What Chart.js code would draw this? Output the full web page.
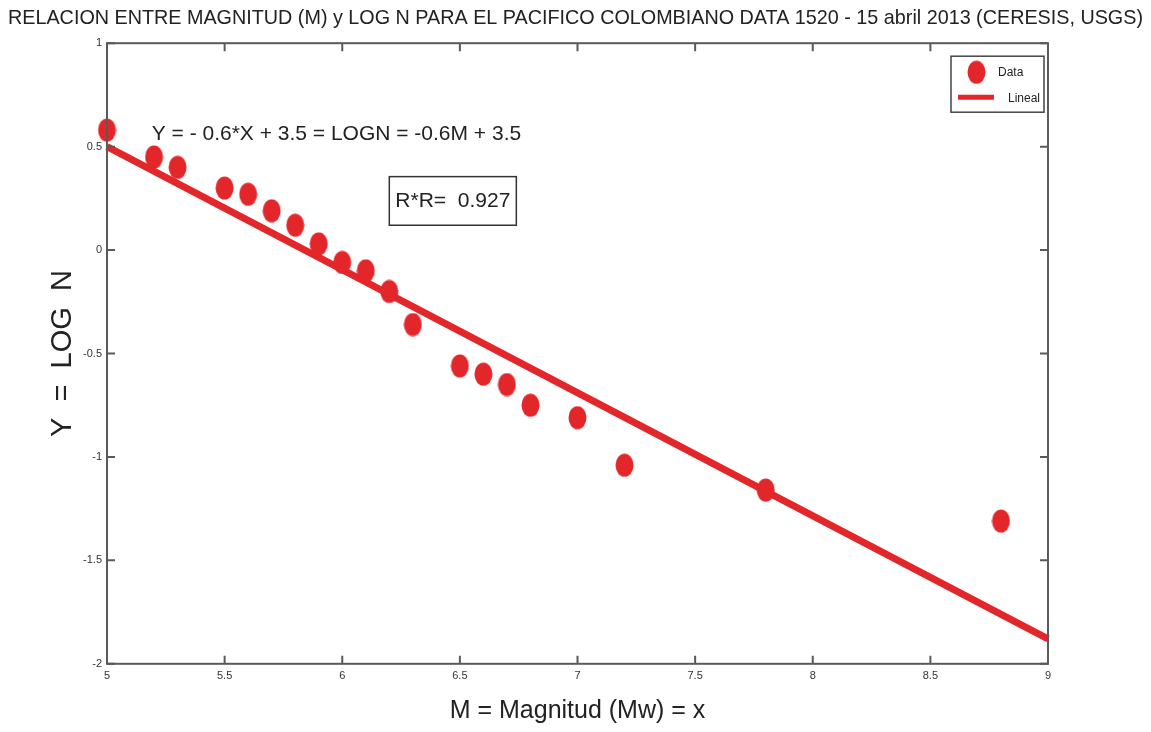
<!DOCTYPE html>
<html>
<head>
<meta charset="utf-8">
<script src="https://cdn.jsdelivr.net/npm/chart.js@4"></script>
<style>
  html, body { margin: 0; padding: 0; background: #fff; }
  #wrap { width: 1151px; height: 732px; }
</style>
</head>
<body>
<div id="wrap"><canvas id="myChart"></canvas></div>
<script>
// datos
const magnitud = [5.0, 5.2, 5.3, 5.5, 5.6, 5.7, 5.8, 5.9, 6.0, 6.1, 6.2, 6.3, 6.5, 6.6, 6.7, 6.8, 7.0, 7.2, 7.8, 8.8];
const logN = [0.58, 0.45, 0.40, 0.30, 0.27, 0.19, 0.12, 0.03, -0.06, -0.10, -0.20, -0.36, -0.56, -0.60, -0.65, -0.75, -0.81, -1.04, -1.16, -1.31];
const linealX = [5, 9];
const linealY = [0.5, -1.88];
const xTicks = [5, 5.5, 6, 6.5, 7, 7.5, 8, 8.5, 9];
const yTicks = [1, 0.5, 0, -0.5, -1, -1.5, -2];

const rojo = "#e3262a";
const gris = "#5a5a5a";
const fuente = "'Liberation Sans', Arial, sans-serif";

const ctx = document.getElementById("myChart");

// marcador eliptico (la imagen original esta algo comprimida)
const punto = document.createElement("canvas");
punto.width = 19;
punto.height = 24;
const pc = punto.getContext("2d");
pc.fillStyle = rojo;
pc.beginPath();
pc.ellipse(9.5, 12, 9, 11.5, 0, 0, Math.PI * 2);
pc.fill();

// marco tipo matlab: caja y ticks hacia adentro
const marco = {
  id: "marco",
  afterDatasetsDraw(chart) {
    const { ctx, chartArea: a, scales } = chart;
    ctx.save();
    ctx.strokeStyle = gris;
    ctx.lineWidth = 2;
    ctx.strokeRect(a.left, a.top, a.right - a.left, a.bottom - a.top);
    const t = 8;
    ctx.beginPath();
    xTicks.forEach(v => {
      const px = scales.x.getPixelForValue(v);
      ctx.moveTo(px, a.bottom); ctx.lineTo(px, a.bottom - t);
      ctx.moveTo(px, a.top); ctx.lineTo(px, a.top + t);
    });
    yTicks.forEach(v => {
      const py = scales.y.getPixelForValue(v);
      ctx.moveTo(a.left, py); ctx.lineTo(a.left + t, py);
      ctx.moveTo(a.right, py); ctx.lineTo(a.right - t, py);
    });
    ctx.stroke();

    // ecuacion y R^2
    ctx.fillStyle = "#222";
    ctx.font = "21px " + fuente;
    ctx.textBaseline = "middle";
    ctx.textAlign = "left";
    ctx.fillText("Y = - 0.6*X + 3.5 = LOGN = -0.6M + 3.5",
      scales.x.getPixelForValue(5.19), scales.y.getPixelForValue(0.56));
    const bx1 = scales.x.getPixelForValue(6.2), bx2 = scales.x.getPixelForValue(6.74);
    const by1 = scales.y.getPixelForValue(0.355), by2 = scales.y.getPixelForValue(0.12);
    ctx.lineWidth = 1.5;
    ctx.strokeStyle = "#333";
    ctx.strokeRect(bx1, by1, bx2 - bx1, by2 - by1);
    ctx.textAlign = "center";
    ctx.fillText("R*R=  0.927", (bx1 + bx2) / 2, (by1 + by2) / 2);

    // leyenda
    const lx = a.right - 97, ly = a.top + 13;
    ctx.fillStyle = "#fff";
    ctx.fillRect(lx, ly, 93, 56);
    ctx.strokeStyle = "#444";
    ctx.lineWidth = 1.5;
    ctx.strokeRect(lx, ly, 93, 56);
    ctx.drawImage(punto, lx + 16, ly + 4);
    ctx.strokeStyle = rojo;
    ctx.lineWidth = 5;
    ctx.beginPath();
    ctx.moveTo(lx + 7, ly + 41); ctx.lineTo(lx + 43, ly + 41);
    ctx.stroke();
    ctx.fillStyle = "#222";
    ctx.font = "12px " + fuente;
    ctx.textAlign = "left";
    ctx.fillText(chart.data.datasets[0].label, lx + 47, ly + 16);
    ctx.fillText(chart.data.datasets[1].label, lx + 57, ly + 42);
    ctx.restore();
  }
};

new Chart(ctx, {
  type: "scatter",
  data: {
    datasets: [
      {
        label: "Data",
        data: magnitud.map((m, i) => ({ x: m, y: logN[i] })),
        backgroundColor: rojo,
        borderColor: rojo,
        pointStyle: punto,
        pointRadius: 10,
        pointHoverRadius: 10,
        order: 1,
      },
      {
        label: "Lineal",
        type: "line",
        data: linealX.map((m, i) => ({ x: m, y: linealY[i] })),
        borderColor: rojo,
        borderWidth: 7,
        pointRadius: 0,
        order: 2,
      },
    ],
  },
  options: {
    responsive: true,
    maintainAspectRatio: false,
    animation: false,
    clip: false,
    layout: { padding: { left: 8, right: 8, top: 0, bottom: 6 } },
    plugins: {
      legend: { display: false },
      tooltip: { enabled: false },
      title: {
        display: true,
        text: "RELACION ENTRE MAGNITUD (M) y LOG N PARA EL PACIFICO COLOMBIANO DATA 1520 - 15 abril 2013 (CERESIS, USGS)",
        color: "#222",
        font: { family: fuente, size: 21, weight: "normal" },
        padding: { top: 6, bottom: 12 },
      },
    },
    scales: {
      x: {
        type: "linear",
        min: 5,
        max: 9,
        afterBuildTicks: s => { s.ticks = xTicks.map(v => ({ value: v })); },
        grid: { display: false, drawTicks: false },
        border: { display: false },
        ticks: { color: "#333", font: { family: fuente, size: 11 }, padding: 6, callback: v => String(v) },
        title: {
          display: true,
          text: "M = Magnitud (Mw) = x",
          color: "#222",
          font: { family: fuente, size: 25 },
          padding: { top: 7, bottom: 0 },
        },
      },
      y: {
        type: "linear",
        min: -2,
        max: 1,
        afterBuildTicks: s => { s.ticks = yTicks.map(v => ({ value: v })); },
        afterFit: s => { s.width = 99; },
        grid: { display: false, drawTicks: false },
        border: { display: false },
        ticks: { color: "#333", font: { family: fuente, size: 11 }, padding: 5, callback: v => String(v) },
        title: {
          display: true,
          text: "Y  =  LOG  N",
          color: "#222",
          font: { family: fuente, size: 29 },
          padding: { top: 38, bottom: 0 },
        },
      },
      // eje vacio a la derecha, solo reserva el margen
      derecha: {
        type: "linear",
        position: "right",
        min: -2,
        max: 1,
        afterFit: s => { s.width = 95; },
        grid: { display: false, drawTicks: false },
        border: { display: false },
        ticks: { display: false },
      },
    },
  },
  plugins: [marco],
});
</script>
</body>
</html>
